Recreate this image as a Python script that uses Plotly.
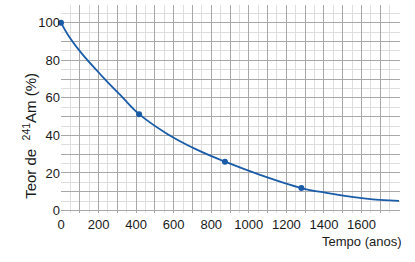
import plotly.graph_objects as go

# Curve
t_curve = [0, 40, 111, 218, 324, 416, 564, 723, 873, 1060, 1280, 1414, 1539, 1660, 1751, 1800]
a_curve = [100, 93.0, 83.5, 71.6, 60.6, 51.3, 40.9, 32.4, 26.0, 19.0, 12.0, 9.4, 7.4, 6.0, 5.4, 5.2]

# Marked points
t_pts = [0, 416, 873, 1280]
a_pts = [100, 51.3, 26.0, 12.0]

x_ticks = [0, 200, 400, 600, 800, 1000, 1200, 1400, 1600]
x_labels = ["0", "200", "400", "600", "800", "1000", "1200", "1400", "1600"]
y_ticks = [0, 20, 40, 60, 80, 100]
y_labels = ["0", "20", "40", "60", "80", "100"]

blue = "#1a5ca8"
major = "#a8a8a8"
minorc = "#dedede"
font = dict(family="Liberation Sans, Arial, sans-serif", size=13, color="#1a1a1a")
xr = [0, 1805]
yr = [-1.3, 109.4]

fig = go.Figure()
fig.add_trace(go.Scatter(x=t_curve, y=a_curve, mode="lines",
                         line=dict(color=blue, width=1.8, shape="spline", smoothing=1.0),
                         hoverinfo="skip", showlegend=False))
fig.add_trace(go.Scatter(x=t_pts, y=a_pts, mode="markers", xaxis="x2", yaxis="y2",
                         marker=dict(color=blue, size=6), cliponaxis=False,
                         showlegend=False))

fig.update_layout(
    width=415, height=262,
    margin=dict(l=61, r=15, t=5, b=49),
    paper_bgcolor="white", plot_bgcolor="white",
    font=font,
    xaxis=dict(range=xr, tickmode="array", tickvals=x_ticks, ticktext=x_labels,
               showgrid=True, gridcolor=major, gridwidth=1, zeroline=False,
               showline=False, ticks="", ticklabelstandoff=2,
               minor=dict(dtick=50, showgrid=True, gridcolor=minorc, gridwidth=1),
               tickfont=font),
    yaxis=dict(range=yr, tickmode="array", tickvals=y_ticks, ticktext=y_labels,
               showgrid=True, gridcolor=major, gridwidth=1, zeroline=False,
               showline=False, ticks="", ticklabelstandoff=0,
               minor=dict(dtick=5, showgrid=True, gridcolor=minorc, gridwidth=1),
               tickfont=font),
    xaxis2=dict(range=xr, overlaying="x", side="bottom", dtick=100, tick0=0,
                showticklabels=False, showgrid=True, gridcolor=major, gridwidth=1,
                zeroline=False, showline=False, ticks=""),
    yaxis2=dict(range=yr, overlaying="y", side="left", dtick=10, tick0=0,
                showticklabels=False, showgrid=True, gridcolor=major, gridwidth=1,
                zeroline=False, showline=False, ticks=""),
    annotations=[
        dict(text="Teor de&nbsp; <sup>241</sup>Am (%)", textangle=-90, xref="paper",
             yref="paper", x=-0.095, y=0.37, showarrow=False,
             font=dict(family=font["family"], size=15, color="#1a1a1a"),
             xanchor="center", yanchor="middle"),
        dict(text="Tempo (anos)", xref="paper", yref="paper", x=1.01, y=-0.138,
             showarrow=False, font=font, xanchor="right", yanchor="middle"),
    ],
)

fig.write_html("out.html")
